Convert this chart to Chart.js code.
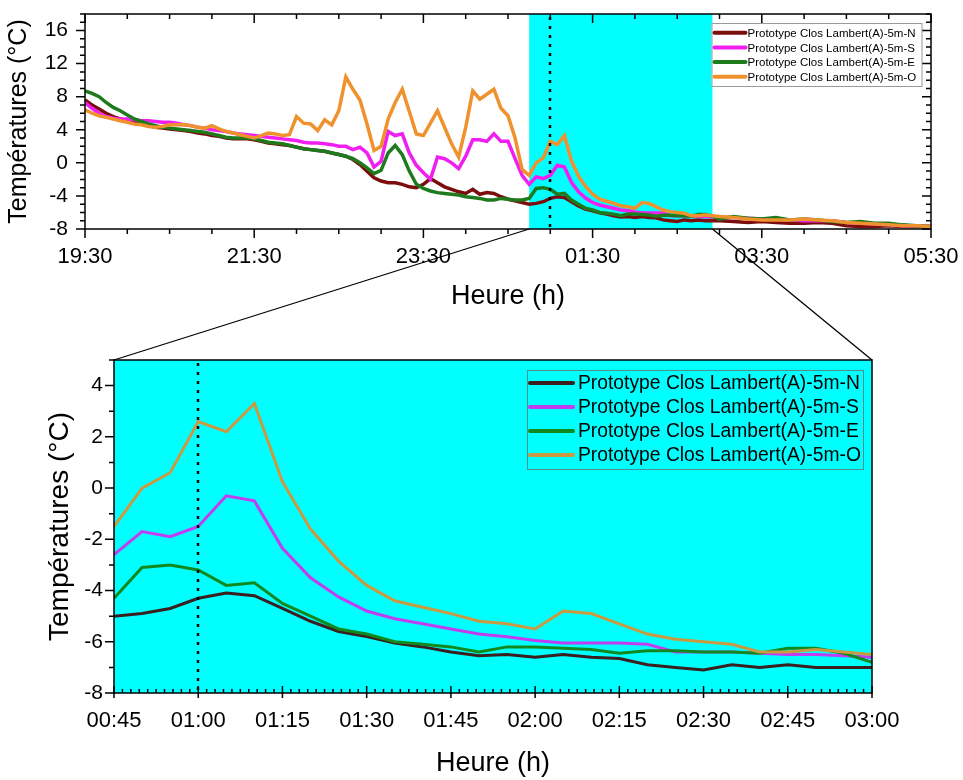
<!DOCTYPE html>
<html>
<head>
<meta charset="utf-8">
<script src="https://cdn.jsdelivr.net/npm/chart.js@4.4.0/dist/chart.umd.min.js"></script>
<style>
  body { margin: 0; background: #fff; }
  #wrap { position: relative; width: 963px; height: 780px; }
  canvas { position: absolute; left: 0; }
  #topChart { top: 0; }
  #zoomChart { top: 340px; }
  #links { top: 0; pointer-events: none; }
</style>
</head>
<body>
<div id="wrap">
  <canvas id="topChart" width="963" height="320"></canvas>
  <canvas id="zoomChart" width="963" height="440"></canvas>
  <canvas id="links" width="963" height="780"></canvas>
</div>
<script>
// Series
const seriesNames = [
  'Prototype Clos Lambert(A)-5m-N',
  'Prototype Clos Lambert(A)-5m-S',
  'Prototype Clos Lambert(A)-5m-E',
  'Prototype Clos Lambert(A)-5m-O'
];
const topColors = ['#7b0d0d', '#f01ef0', '#1d7a1d', '#ef922e'];
const zoomColors = ['#3b1e1e', '#c23cf2', '#11891f', '#c99a40'];

// 19:30 -> 00:40, every 5 min
const eveningN = [7.6, 7.0, 6.5, 6.0, 5.6, 5.3, 5.1, 4.9, 4.7, 4.5,
  4.3, 4.2, 4.1, 4.0, 3.9, 3.8, 3.6, 3.5, 3.3, 3.2,
  3.0, 2.9, 2.9, 2.9, 2.8, 2.6, 2.4, 2.3, 2.2, 2.1,
  1.9, 1.7, 1.6, 1.5, 1.4, 1.2, 1.0, 0.8, 0.4, -0.2,
  -1.0, -1.8, -2.2, -2.4, -2.4, -2.6, -2.9, -3.0, -2.6, -1.9,
  -2.4, -2.9, -3.2, -3.5, -3.7, -3.2, -3.8, -3.6, -3.7, -4.1,
  -4.4, -4.6, -4.8];
const eveningS = [7.3, 6.6, 6.0, 5.6, 5.4, 5.3, 5.3, 5.2, 5.1, 5.1,
  5.0, 4.9, 4.9, 4.8, 4.6, 4.5, 4.3, 4.2, 4.0, 3.9,
  3.8, 3.6, 3.5, 3.4, 3.3, 3.2, 3.1, 3.0, 2.9, 2.8,
  2.7, 2.5, 2.4, 2.4, 2.3, 2.2, 2.0, 2.0, 1.6, 1.9,
  1.2, -0.5, 0.2, 3.8, 3.3, 3.5, 1.2, -0.3, -1.2, -2.0,
  0.7, 0.5, 0.0, -0.7, 0.8, 2.8, 2.8, 2.6, 3.5, 2.6,
  2.6, 0.5, -1.5];
const eveningE = [8.7, 8.4, 8.0, 7.3, 6.7, 6.3, 5.8, 5.3, 5.0, 4.7,
  4.5, 4.3, 4.2, 4.1, 4.0, 3.9, 3.8, 3.7, 3.5, 3.3,
  3.1, 3.0, 3.0, 3.0, 2.9, 2.7, 2.5, 2.4, 2.3, 2.1,
  1.9, 1.7, 1.6, 1.5, 1.4, 1.2, 1.0, 0.8, 0.5, 0.0,
  -0.6, -1.3, -0.9, 1.2, 2.1, 1.0, -1.0, -2.6, -3.1, -3.4,
  -3.6, -3.7, -3.8, -3.9, -4.1, -4.2, -4.3, -4.5, -4.5, -4.3,
  -4.4, -4.5, -4.5];
const eveningO = [6.4, 6.0, 5.7, 5.5, 5.3, 5.1, 4.9, 4.7, 4.6, 4.4,
  4.3, 4.4, 4.6, 4.6, 4.6, 4.5, 4.3, 4.2, 4.5, 4.1,
  3.8, 3.6, 3.4, 3.2, 3.0, 3.3, 3.6, 3.5, 3.3, 3.4,
  5.6, 4.8, 4.7, 3.9, 5.2, 4.6, 6.3, 10.4, 8.9, 7.6,
  4.7, 1.5, 2.0, 5.3, 7.3, 8.9, 6.2, 3.5, 3.3, 4.8,
  6.3, 4.3, 2.3, 0.7, 4.3, 8.7, 7.7, 8.3, 8.9, 6.6,
  5.7, 3.0, -0.8];

// 00:45 -> 03:00, every 5 min (zoomed panel)
const zoomN = [-5.0, -4.9, -4.7, -4.3, -4.1, -4.2, -4.7, -5.2, -5.6, -5.8,
  -6.05, -6.2, -6.4, -6.55, -6.5, -6.6, -6.5, -6.6, -6.65, -6.9,
  -7.0, -7.1, -6.9, -7.0, -6.9, -7.0, -7.0, -7.0];
const zoomS = [-2.6, -1.7, -1.9, -1.5, -0.3, -0.5, -2.35, -3.5, -4.25, -4.8,
  -5.1, -5.3, -5.5, -5.7, -5.8, -5.95, -6.05, -6.05, -6.05, -6.1,
  -6.4, -6.4, -6.4, -6.45, -6.5, -6.5, -6.55, -6.6];
const zoomE = [-4.3, -3.1, -3.0, -3.2, -3.8, -3.7, -4.5, -5.0, -5.5, -5.7,
  -6.0, -6.1, -6.2, -6.4, -6.2, -6.2, -6.25, -6.3, -6.45, -6.35,
  -6.35, -6.4, -6.4, -6.45, -6.25, -6.25, -6.45, -6.8];
const zoomO = [-1.5, 0.0, 0.6, 2.6, 2.2, 3.3, 0.25, -1.6, -2.85, -3.8,
  -4.4, -4.65, -4.9, -5.2, -5.3, -5.5, -4.8, -4.9, -5.3, -5.7,
  -5.9, -6.0, -6.1, -6.4, -6.4, -6.3, -6.4, -6.5];

// 03:10 -> 05:30, every 10 min
const tailN = [-7.1, -7.2, -7.1, -7.2, -7.3, -7.3, -7.2, -7.3, -7.6, -7.7, -7.7, -7.6, -7.7, -7.7, -7.7];
const tailS = [-6.6, -6.7, -6.8, -6.8, -6.9, -7.0, -7.0, -7.0, -7.2, -7.3, -7.4, -7.5, -7.6, -7.6, -7.7];
const tailE = [-6.5, -6.7, -6.8, -6.6, -6.9, -6.8, -6.9, -7.1, -7.2, -7.1, -7.3, -7.3, -7.5, -7.6, -7.7];
const tailO = [-6.6, -6.8, -6.9, -6.9, -6.9, -6.8, -6.9, -7.0, -7.2, -7.3, -7.4, -7.5, -7.6, -7.6, -7.7];

// Ticks
const topXTicks = ['19:30', '21:30', '23:30', '01:30', '03:30', '05:30'];
const topYTicks = [-8, -4, 0, 4, 8, 12, 16];
const zoomXTicks = ['00:45', '01:00', '01:15', '01:30', '01:45', '02:00', '02:15', '02:30', '02:45', '03:00'];
const zoomYTicks = [-8, -6, -4, -2, 0, 2, 4];

const zoomStart = '00:45';
const zoomEnd = '03:00';
const highlightEnd = '02:55';
const markerTime = '01:00';

const FONT = '"Liberation Sans", Arial, sans-serif';

// minutes since 19:30
function toMin(t) {
  const [h, m] = t.split(':').map(Number);
  let v = h * 60 + m - (19 * 60 + 30);
  if (v < 0) v += 1440;
  return v;
}
function toLabel(v) {
  const t = (19 * 60 + 30 + Math.round(v)) % 1440;
  return String(Math.floor(t / 60)).padStart(2, '0') + ':' + String(t % 60).padStart(2, '0');
}
function timeRange(from, to, step) {
  const out = [];
  for (let t = toMin(from); t <= toMin(to); t += step) out.push(t);
  return out;
}

const eveningTimes = timeRange('19:30', '00:40', 5);
const zoomTimes = timeRange(zoomStart, zoomEnd, 5);
const tailTimes = timeRange('03:10', '05:30', 10);
const allTimes = eveningTimes.concat(zoomTimes, tailTimes);

const topValues = [
  eveningN.concat(zoomN, tailN),
  eveningS.concat(zoomS, tailS),
  eveningE.concat(zoomE, tailE),
  eveningO.concat(zoomO, tailO)
];
const zoomValues = [zoomN, zoomS, zoomE, zoomO];

const pts = (times, vals) => times.map((x, i) => ({ x: x, y: vals[i] }));

// cyan band, dotted marker, frame with ticks, legend box
const panelDecor = {
  id: 'panelDecor',
  beforeDatasetsDraw(chart, args, o) {
    const { ctx, chartArea: a, scales: { x } } = chart;
    const x1 = x.getPixelForValue(o.from), x2 = x.getPixelForValue(o.to);
    ctx.save();
    ctx.fillStyle = '#00ffff';
    ctx.fillRect(x1, a.top, x2 - x1, a.bottom - a.top);
    ctx.restore();
  },
  afterDatasetsDraw(chart, args, o) {
    const { ctx, chartArea: a, scales: { x, y } } = chart;
    ctx.save();

    // dotted marker line
    const xm = Math.round(x.getPixelForValue(o.marker));
    ctx.strokeStyle = '#000';
    ctx.lineWidth = 2.5;
    ctx.setLineDash([3, 6]);
    ctx.beginPath();
    ctx.moveTo(xm, a.top + 3);
    ctx.lineTo(xm, a.bottom);
    ctx.stroke();
    ctx.setLineDash([]);

    // frame
    ctx.lineWidth = 1.5;
    ctx.strokeRect(a.left, a.top, a.right - a.left, a.bottom - a.top);

    // ticks
    ctx.beginPath();
    const ny = Math.round((y.max - y.min) / o.yMinor);
    for (let i = 0; i <= ny; i++) {
      const v = y.min + i * o.yMinor;
      const len = o.yMajor.some(m => Math.abs(m - v) < 1e-6) ? o.yMajorLen : o.yMinorLen;
      const py = y.getPixelForValue(v);
      ctx.moveTo(a.left - len, py); ctx.lineTo(a.left, py);
      if (o.mirror) { ctx.moveTo(a.right, py); ctx.lineTo(a.right - len, py); }
    }
    const nx = Math.round((x.max - x.min) / o.xMinor);
    for (let i = 0; i <= nx; i++) {
      const v = x.min + i * o.xMinor;
      const major = o.xMajor.some(m => Math.abs(m - v) < 1e-6);
      const px = x.getPixelForValue(v);
      if (major) { ctx.moveTo(px, a.bottom - o.xMajorIn); ctx.lineTo(px, a.bottom + o.xMajorOut); }
      else if (o.xMinorIn) { ctx.moveTo(px, a.bottom - o.xMinorLen); ctx.lineTo(px, a.bottom); }
      else { ctx.moveTo(px, a.bottom); ctx.lineTo(px, a.bottom + o.xMinorLen); }
      if (o.mirror) {
        ctx.moveTo(px, a.top);
        ctx.lineTo(px, a.top + (major ? o.xMajorOut : o.xMinorLen));
      }
    }
    ctx.stroke();

    // legend
    const lg = o.legend;
    const x0 = a.right - lg.right - lg.width, y0 = a.top + lg.top;
    if (lg.bg) { ctx.fillStyle = lg.bg; ctx.fillRect(x0, y0, lg.width, lg.height); }
    ctx.strokeStyle = lg.border;
    ctx.lineWidth = 1;
    ctx.strokeRect(x0 + 0.5, y0 + 0.5, lg.width, lg.height);
    ctx.font = lg.size + 'px ' + FONT;
    ctx.textBaseline = 'middle';
    ctx.textAlign = 'left';
    chart.data.datasets.forEach((ds, i) => {
      const yy = y0 + lg.first + i * lg.row;
      ctx.strokeStyle = ds.borderColor;
      ctx.lineWidth = lg.lineWidth;
      ctx.lineCap = 'round';
      ctx.beginPath();
      ctx.moveTo(x0 + lg.pad, yy);
      ctx.lineTo(x0 + lg.pad + lg.lineLen, yy);
      ctx.stroke();
      ctx.fillStyle = '#000';
      ctx.fillText(ds.label, x0 + lg.pad + lg.lineLen + lg.gap, yy + 1);
    });
    ctx.restore();
  }
};

function axisFont(size) {
  return { size: size, family: FONT };
}
// keep the plot area exactly where the layout padding puts it
function fixX(h) {
  return s => { s.height = h; s.paddingLeft = 0; s.paddingRight = 0; };
}
function fixY(w) {
  return s => { s.width = w; s.paddingTop = 0; s.paddingBottom = 0; };
}

// Overview panel
const topChart = new Chart(document.getElementById('topChart'), {
  type: 'line',
  data: {
    datasets: seriesNames.map((name, i) => ({
      label: name,
      data: pts(allTimes, topValues[i]),
      borderColor: topColors[i],
      borderWidth: 3.5,
      pointRadius: 0,
      tension: 0,
      order: 4 - i
    }))
  },
  options: {
    responsive: false,
    animation: false,
    devicePixelRatio: 1,
    layout: { padding: { left: 0, right: 32, top: 14, bottom: 0 } },
    plugins: {
      legend: { display: false },
      tooltip: { enabled: false },
      panelDecor: {
        from: toMin(zoomStart), to: toMin(highlightEnd), marker: toMin(markerTime),
        yMinor: 1, yMajor: topYTicks, yMajorLen: 9, yMinorLen: 5,
        xMinor: 30, xMajor: topXTicks.map(toMin), xMajorOut: 9, xMajorIn: 0, xMinorLen: 5, xMinorIn: false,
        mirror: true,
        legend: { right: 9.5, top: 9, width: 210, height: 63, first: 9.7, row: 14.7,
          pad: 3, lineLen: 31, gap: 2, size: 11.5, lineWidth: 4, bg: '#fff', border: '#9a9a9a' }
      }
    },
    scales: {
      x: {
        type: 'linear',
        min: toMin('19:30'),
        max: toMin('05:30'),
        afterBuildTicks: s => { s.ticks = topXTicks.map(t => ({ value: toMin(t) })); },
        afterFit: fixX(91),
        grid: { display: false, drawTicks: false },
        border: { display: false },
        ticks: { callback: v => toLabel(v), font: axisFont(22), color: '#000', padding: 15, maxRotation: 0, autoSkip: false },
        title: { display: true, text: 'Heure (h)', font: axisFont(27), color: '#000', padding: { top: 0, bottom: 7 } }
      },
      y: {
        min: -8,
        max: 18,
        afterBuildTicks: s => { s.ticks = topYTicks.map(v => ({ value: v })); },
        afterFit: fixY(85),
        grid: { display: false, drawTicks: false },
        border: { display: false },
        ticks: { font: axisFont(21), color: '#000', padding: 17 },
        title: { display: true, text: 'Températures (°C)', font: axisFont(25), color: '#000', padding: { top: 4, bottom: 0 } }
      }
    }
  },
  plugins: [panelDecor]
});

// Zoomed panel
const zoomChart = new Chart(document.getElementById('zoomChart'), {
  type: 'line',
  data: {
    datasets: seriesNames.map((name, i) => ({
      label: name,
      data: pts(zoomTimes, zoomValues[i]),
      borderColor: zoomColors[i],
      borderWidth: 3,
      pointRadius: 0,
      tension: 0,
      order: 4 - i
    }))
  },
  options: {
    responsive: false,
    animation: false,
    devicePixelRatio: 1,
    layout: { padding: { left: 0, right: 91, top: 20, bottom: 0 } },
    plugins: {
      legend: { display: false },
      tooltip: { enabled: false },
      panelDecor: {
        from: toMin(zoomStart), to: toMin(zoomEnd), marker: toMin(markerTime),
        yMinor: 1, yMajor: zoomYTicks, yMajorLen: 9, yMinorLen: 5,
        xMinor: 1.5, xMajor: zoomXTicks.map(toMin), xMajorOut: 5, xMajorIn: 7, xMinorLen: 4, xMinorIn: true,
        mirror: false,
        legend: { right: 9, top: 10, width: 336, height: 99, first: 13, row: 24,
          pad: 3, lineLen: 43, gap: 5, size: 19.3, lineWidth: 4, bg: null, border: '#4d8f8f' }
      }
    },
    scales: {
      x: {
        type: 'linear',
        min: toMin(zoomStart),
        max: toMin(zoomEnd),
        afterBuildTicks: s => { s.ticks = zoomXTicks.map(t => ({ value: toMin(t) })); },
        afterFit: fixX(87),
        grid: { display: false, drawTicks: false },
        border: { display: false },
        ticks: { callback: v => toLabel(v), font: axisFont(22), color: '#000', padding: 15, maxRotation: 0, autoSkip: false },
        title: { display: true, text: 'Heure (h)', font: axisFont(27), color: '#000', padding: { top: 0, bottom: 0 } }
      },
      y: {
        min: -8,
        max: 5,
        afterBuildTicks: s => { s.ticks = zoomYTicks.map(v => ({ value: v })); },
        afterFit: fixY(114),
        grid: { display: false, drawTicks: false },
        border: { display: false },
        ticks: { font: axisFont(21), color: '#000', padding: 11 },
        title: { display: true, text: 'Températures (°C)', font: axisFont(28), color: '#000', padding: { top: 43, bottom: 0 } }
      }
    }
  },
  plugins: [panelDecor]
});

// Lines joining the highlighted band to the zoomed panel
const links = document.getElementById('links').getContext('2d');
const ta = topChart.chartArea, za = zoomChart.chartArea;
const offset = 340;
links.strokeStyle = '#000';
links.lineWidth = 1.3;
links.beginPath();
links.moveTo(topChart.scales.x.getPixelForValue(toMin(zoomStart)), ta.bottom);
links.lineTo(za.left, za.top + offset);
links.moveTo(topChart.scales.x.getPixelForValue(toMin(highlightEnd)), ta.bottom);
links.lineTo(za.right, za.top + offset);
links.stroke();
</script>
</body>
</html>
